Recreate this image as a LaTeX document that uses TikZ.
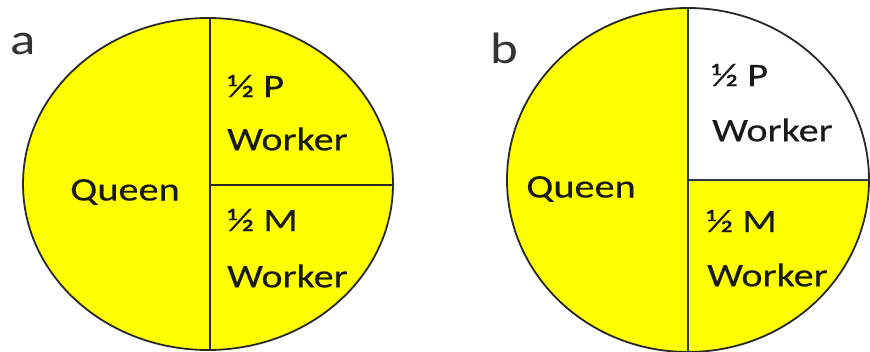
\documentclass[tikz,border=0pt]{standalone}
\usepackage{fontspec}
\setmainfont{Carlito}[FakeStretch=1.22, FakeBold=0.3]
\newfontfamily\tagfont{Carlito}[FakeStretch=1.2]
\usepackage{tikz}

\definecolor{hive}{RGB}{255,255,0}
\definecolor{rim}{RGB}{40,40,40}
\definecolor{rimb}{RGB}{45,55,75}

\tikzset{
  part/.style={font=\fontsize{33}{40}\selectfont, text=black!90, inner sep=0pt},
  cell/.style={part, anchor=west},
  tag/.style={font=\tagfont\fontsize{44}{48}\selectfont, text=black!80, inner sep=0pt}
}

\begin{document}
\begin{tikzpicture}[x=1pt,y=-1pt]
  \useasboundingbox (0,0) rectangle (870,352);
  % panel a
  \fill[hive] (208,184) ellipse [x radius=185pt, y radius=166pt];
  \draw[rim, line width=1.8] (208,184) ellipse [x radius=185pt, y radius=166pt];
  \draw[rim, line width=1.8] (210,18) -- (210,350);
  \draw[rim, line width=1.8] (210,185) -- (392,185);
  \node[tag] (la) at (23,44) {a};
  \node[part] (qa) at (125,192) {Queen};
  \node[cell] (pa) at (227,86) {½ P};
  \node[cell] (wpa) at (227,139) {Worker};
  \node[cell] (ma) at (227,220) {½ M};
  \node[cell] (wma) at (227,276) {Worker};
  % panel b
  \fill[hive] (688,180) ellipse [x radius=181pt, y radius=172pt];
  \begin{scope}
    \clip (688,180) ellipse [x radius=181pt, y radius=172pt];
    \fill[white] (688,0) rectangle (870,180);
  \end{scope}
  \draw[rim, line width=1.8] (688,180) ellipse [x radius=181pt, y radius=172pt];
  \draw[rimb, line width=1.8] (688,8) -- (688,352);
  \draw[rimb, line width=1.8] (688,180) -- (869,180);
  \node[tag] (lb) at (504,48) {b};
  \node[part] (qb) at (581,189) {Queen};
  \node[cell] (pb) at (711,75) {½ P};
  \node[cell] (wpb) at (712,130) {Worker};
  \node[cell] (mb) at (706,221) {½ M};
  \node[cell] (wmb) at (707,275) {Worker};
\end{tikzpicture}
\end{document}
